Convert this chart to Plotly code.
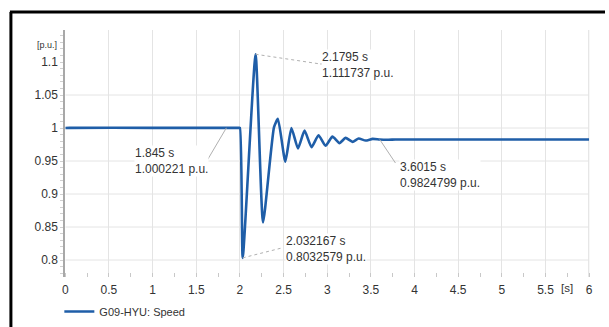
import plotly.graph_objects as go

# ---- data ----
time_s = [0, 0.05, 1.0, 1.845, 1.985, 2.0, 2.032167, 2.1795, 2.265, 2.39, 2.435, 2.52, 2.59, 2.665,
          2.74, 2.82, 2.90, 2.98, 3.06, 3.14, 3.21, 3.29, 3.36, 3.44, 3.52, 3.6015, 3.70, 3.78,
          4.5, 6.0]
speed_pu = [1.0, 1.000221, 1.000221, 1.000221, 1.000221, 1.000221, 0.8032579, 1.111737, 0.857,
            1.001, 1.014, 0.949, 1.0, 0.969, 0.996, 0.971, 0.989, 0.973, 0.987, 0.977, 0.985,
            0.979, 0.984, 0.981, 0.9835, 0.9824799, 0.9822, 0.9825, 0.9825, 0.9825]
series_name = "G09-HYU: Speed"

x_ticks = [0, 0.5, 1, 1.5, 2, 2.5, 3, 3.5, 4, 4.5, 5, 5.5, 6]
x_tick_text = ["0", "0.5", "1", "1.5", "2", "2.5", "3", "3.5", "4", "4.5", "5", "5.5", "6"]
y_ticks = [0.8, 0.85, 0.9, 0.95, 1.0, 1.05, 1.1]
y_tick_text = ["0.8", "0.85", "0.9", "0.95", "1", "1.05", "1.1"]
y_grid = [0.8, 0.85, 0.9, 0.95, 1.0, 1.05]

# markers: (time, value, label-time text, label-value text)
marker_t = [1.845, 2.1795, 2.032167, 3.6015]
marker_v = [1.000221, 1.111737, 0.8032579, 0.9824799]
marker_lbl_t = ["1.845 s", "2.1795 s", "2.032167 s", "3.6015 s"]
marker_lbl_v = ["1.000221 p.u.", "1.111737 p.u.", "0.8032579 p.u.", "0.9824799 p.u."]
# label anchor positions (data coords) and leader end points
label_x = [0.79, 2.932, 2.513, 3.827]
label_y = [0.950, 1.0962, 0.8167, 0.9295]
leader_x = [1.630, 2.921, 2.479, 3.781]
leader_y = [0.952, 1.097, 0.8182, 0.947]
leader_dash = ["solid", "dot", "dot", "solid"]

W, H = 609, 327
FONT = "Liberation Sans, Arial, sans-serif"
TXT = "#333333"
BLUE = "#1f5ea8"

X0, X1 = 63, 593
Y0, Y1 = 30, 277
Y_MIN = 1.1 - (Y1 - 62) / 660
Y_MAX = 1.1 + (62 - Y0) / 660

fig = go.Figure()
fig.add_trace(go.Scatter(x=time_s, y=speed_pu, mode="lines", name=series_name,
                         line=dict(color=BLUE, width=2.6, shape="spline", smoothing=0.5),
                         showlegend=True))

shapes = []
for g in y_grid:
    shapes.append(dict(type="line", xref="x", yref="y", x0=0, x1=6, y0=g, y1=g,
                       line=dict(color="#e4e4e4", width=1), layer="below"))
# right bound line at 6
shapes.append(dict(type="line", xref="x", yref="paper", x0=6, x1=6,
                   y0=(H - Y1) / H, y1=(H - Y0) / H, line=dict(color="#c4c4c4", width=1.2), layer="below"))
# outer frame (top + left)
shapes.append(dict(type="line", xref="paper", yref="paper", x0=7 / W, x1=1, y0=1 - 12 / H, y1=1 - 12 / H,
                   line=dict(color="black", width=3)))
shapes.append(dict(type="line", xref="paper", yref="paper", x0=8 / W, x1=8 / W, y0=0, y1=1 - 12 / H,
                   line=dict(color="black", width=3)))

annotations = []
for i in range(len(marker_t)):
    shapes.append(dict(type="line", xref="x", yref="y", x0=marker_t[i], y0=marker_v[i],
                       x1=leader_x[i], y1=leader_y[i],
                       line=dict(color="#b0b0b0", width=1, dash=leader_dash[i])))
    annotations.append(dict(x=label_x[i], y=label_y[i], xref="x", yref="y",
                            text=marker_lbl_t[i] + "<br>" + marker_lbl_v[i],
                            showarrow=False, xanchor="left", yanchor="middle", align="left",
                            bgcolor="white", borderpad=0,
                            font=dict(family=FONT, size=12, color=TXT)))
# underline for the peak label
shapes.append(dict(type="line", xref="x", yref="y", x0=2.921, x1=3.759, y0=1.097, y1=1.097,
                   line=dict(color="#a0a0a0", width=1)))

annotations.append(dict(x=57 / W, y=1 - 45 / H, xref="paper", yref="paper", text="[p.u.]",
                        showarrow=False, xanchor="right", yanchor="middle",
                        font=dict(family=FONT, size=9, color=TXT)))
annotations.append(dict(x=571 / W, y=1 - 288 / H, xref="paper", yref="paper", text="[s]",
                        showarrow=False, xanchor="center", yanchor="middle",
                        font=dict(family=FONT, size=11.5, color=TXT)))

fig.update_layout(
    width=W, height=H,
    margin=dict(l=0, r=0, t=0, b=0),
    paper_bgcolor="white", plot_bgcolor="white",
    font=dict(family=FONT, size=11, color=TXT),
    shapes=shapes, annotations=annotations,
    showlegend=True,
    legend=dict(x=57 / W, y=1 - 311.5 / H, xanchor="left", yanchor="middle",
                bgcolor="rgba(0,0,0,0)", font=dict(family=FONT, size=11, color=TXT),
                itemwidth=30),
    xaxis=dict(domain=[X0 / W, X1 / W], range=[0, 6], tickvals=x_ticks, ticktext=x_tick_text,
               showgrid=True, gridcolor="#e4e4e4", gridwidth=1, zeroline=False, showline=False,
               ticks="", ticklabelstandoff=4,
               minor=dict(ticks="inside", ticklen=4, tickcolor="#c8c8c8", dtick=0.25, tick0=0,
                          showgrid=False),
               tickfont=dict(family=FONT, size=12, color=TXT), fixedrange=True),
    yaxis=dict(domain=[(H - Y1) / H, (H - Y0) / H],
               range=[Y_MIN, Y_MAX],
               tickvals=y_ticks, ticktext=y_tick_text,
               showgrid=False, zeroline=False, showline=True, linecolor="#a8a8a8", linewidth=2,
               ticks="", ticklabelstandoff=3,
               minor=dict(ticks="outside", ticklen=3, tickcolor="#d0d0d0", dtick=0.01, tick0=0.8,
                          showgrid=False),
               tickfont=dict(family=FONT, size=12, color=TXT), fixedrange=True),
)

fig.write_html("out.html")
